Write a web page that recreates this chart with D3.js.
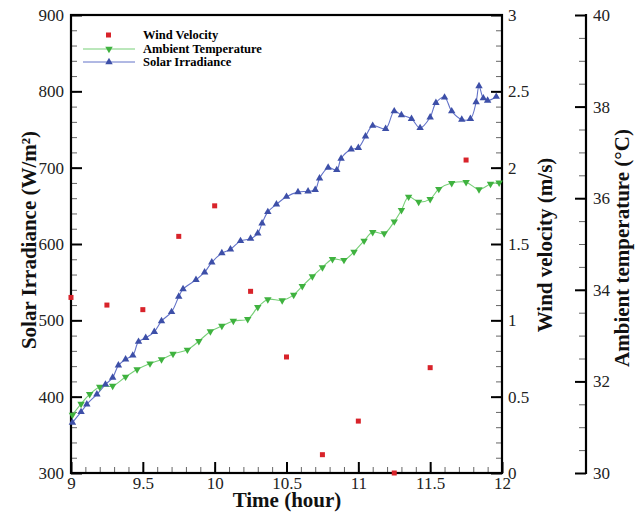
<!DOCTYPE html>
<html>
<head>
<meta charset="utf-8">
<script src="https://cdn.jsdelivr.net/npm/d3@7"></script>
<style>
  body { margin: 0; background: #fff; }
  svg { display: block; font-family: "Liberation Serif", "DejaVu Serif", serif; }
  .tick text { font-family: "Liberation Serif", "DejaVu Serif", serif; font-size: 17px; fill: #222; }
</style>
</head>
<body>
<svg width="640" height="517"></svg>
<script>
// wind velocity, sampled every quarter hour
var windTime = [9, 9.25, 9.5, 9.75, 10, 10.25, 10.5, 10.75, 11, 11.25, 11.5, 11.75];
var windSpeed = [1.15, 1.10, 1.07, 1.55, 1.75, 1.19, 0.76, 0.12, 0.34, 0.0, 0.69, 2.05];

// ambient temperature
var tempTime = [9.01, 9.07, 9.13, 9.2, 9.29, 9.38, 9.46, 9.55, 9.63, 9.71, 9.81, 9.89, 9.97,
  10.05, 10.13, 10.23, 10.3, 10.37, 10.47, 10.55, 10.61, 10.68, 10.75, 10.82, 10.9, 10.97,
  11.04, 11.1, 11.18, 11.25, 11.3, 11.35, 11.42, 11.5, 11.56, 11.65, 11.75, 11.84, 11.92, 11.98];
var tempValue = [31.27, 31.51, 31.72, 31.88, 31.9, 32.1, 32.26, 32.39, 32.48, 32.6, 32.69, 32.88, 33.09,
  33.21, 33.32, 33.36, 33.62, 33.79, 33.77, 33.89, 34.08, 34.29, 34.49, 34.67, 34.65, 34.83,
  35.07, 35.26, 35.23, 35.49, 35.74, 36.03, 35.92, 35.98, 36.2, 36.33, 36.35, 36.19, 36.31, 36.34];

// solar irradiance
var solarTime = [9.01, 9.07, 9.11, 9.18, 9.24, 9.29, 9.33, 9.38, 9.43, 9.47, 9.52, 9.58, 9.63, 9.7,
  9.75, 9.78, 9.87, 9.93, 9.98, 10.05, 10.11, 10.18, 10.25, 10.3, 10.33, 10.37, 10.43, 10.5,
  10.58, 10.65, 10.7, 10.73, 10.79, 10.85, 10.88, 10.95, 11.0, 11.05, 11.1, 11.19, 11.25, 11.3,
  11.37, 11.43, 11.5, 11.54, 11.6, 11.65, 11.72, 11.78, 11.82, 11.84, 11.87, 11.9, 11.96];
var solarValue = [366, 380, 390, 403, 416, 425, 441, 449, 454, 472, 477, 485, 499, 511,
  531, 541, 553, 563, 576, 588, 593, 604, 607, 614, 627, 642, 652, 662,
  668, 669, 671, 686, 700, 697, 712, 724, 726, 741, 755, 751, 774, 769,
  764, 752, 766, 785, 792, 774, 763, 764, 786, 807, 791, 788, 793];

var svg = d3.select("svg");
var plotL = 71, plotR = 502, plotT = 15, plotB = 473;

var x = d3.scaleLinear().domain([9, 12]).range([plotL, plotR]);
var ySolar = d3.scaleLinear().domain([300, 900]).range([plotB, plotT]);
var yWind = d3.scaleLinear().domain([0, 3]).range([plotB, plotT]);
var yTemp = d3.scaleLinear().domain([30, 40]).range([plotB, plotT]);

function styleAxis(g, w) {
  g.select(".domain").remove();
  g.selectAll(".tick line").attr("stroke", "#000").attr("stroke-width", w);
}

// minor ticks first, majors over them
svg.append("g").attr("transform", "translate(" + plotL + ",0)")
    .call(d3.axisLeft(ySolar).tickValues(d3.range(300, 901, 20)).tickSize(-6).tickFormat(""))
    .call(styleAxis, 1).selectAll(".tick line").attr("stroke", "#666");
svg.append("g").attr("transform", "translate(" + plotL + ",0)")
    .call(d3.axisLeft(ySolar).tickValues(d3.range(300, 901, 100)).tickSize(-11).tickPadding(7).tickFormat(d3.format("d")))
    .call(styleAxis, 2);

svg.append("g").attr("transform", "translate(0," + plotB + ")")
    .call(d3.axisBottom(x).tickValues(d3.range(90, 121, 1).map(function(d) { return d / 10; })).tickSize(-6).tickFormat(""))
    .call(styleAxis, 1).selectAll(".tick line").attr("stroke", "#666");
svg.append("g").attr("transform", "translate(0," + plotB + ")")
    .call(d3.axisBottom(x).tickValues([9, 9.5, 10, 10.5, 11, 11.5, 12]).tickSize(-11).tickPadding(4).tickFormat(d3.format("")))
    .call(styleAxis, 2);

svg.append("g").attr("transform", "translate(" + plotR + ",0)")
    .call(d3.axisRight(yWind).tickValues(d3.range(0, 31, 1).map(function(d) { return d / 10; })).tickSize(-6).tickFormat(""))
    .call(styleAxis, 1).selectAll(".tick line").attr("stroke", "#666");
svg.append("g").attr("transform", "translate(" + plotR + ",0)")
    .call(d3.axisRight(yWind).tickValues([0, 0.5, 1, 1.5, 2, 2.5, 3]).tickSize(-11).tickPadding(6).tickFormat(d3.format("")))
    .call(styleAxis, 2);

var tempX = 586;
svg.append("g").attr("transform", "translate(" + tempX + ",0)")
    .call(d3.axisRight(yTemp).tickValues(d3.range(30, 40.1, 0.5)).tickSize(-7).tickFormat(""))
    .call(styleAxis, 1).selectAll(".tick line").attr("stroke", "#666");
svg.append("g").attr("transform", "translate(" + tempX + ",0)")
    .call(d3.axisRight(yTemp).tickValues(d3.range(30, 41, 2)).tickSize(-11).tickPadding(7).tickFormat(d3.format("d")))
    .call(styleAxis, 2);
svg.append("line").attr("x1", tempX).attr("x2", tempX).attr("y1", plotT - 1).attr("y2", plotB + 1)
    .attr("stroke", "#000").attr("stroke-width", 2.2);

// plot frame
svg.append("rect").attr("x", plotL).attr("y", plotT).attr("width", plotR - plotL).attr("height", plotB - plotT)
    .attr("fill", "none").attr("stroke", "#000").attr("stroke-width", 2.2);

// series
var blueLine = "#6272c8", blueMark = "#3d4fa8";
var greenLine = "#77cf77", greenMark = "#3fb23f";
var red = "#d8232a";

var tempData = tempTime.map(function(t, i) { return [t, tempValue[i]]; });
var solarData = solarTime.map(function(t, i) { return [t, solarValue[i]]; });

svg.append("path").datum(tempData)
    .attr("fill", "none").attr("stroke", greenLine).attr("stroke-width", 1.1)
    .attr("d", d3.line().curve(d3.curveCatmullRom).x(function(d) { return x(d[0]); }).y(function(d) { return yTemp(d[1]); }));
svg.append("path").datum(solarData)
    .attr("fill", "none").attr("stroke", blueLine).attr("stroke-width", 1.1)
    .attr("d", d3.line().curve(d3.curveCatmullRom).x(function(d) { return x(d[0]); }).y(function(d) { return ySolar(d[1]); }));

var tri = d3.symbol().type(d3.symbolTriangle).size(24);
svg.append("g").selectAll("path").data(tempData).enter().append("path")
    .attr("d", tri).attr("fill", greenMark)
    .attr("transform", function(d) { return "translate(" + x(d[0]) + "," + yTemp(d[1]) + ") rotate(180)"; });
svg.append("g").selectAll("path").data(solarData).enter().append("path")
    .attr("d", tri).attr("fill", blueMark)
    .attr("transform", function(d) { return "translate(" + x(d[0]) + "," + ySolar(d[1]) + ")"; });

svg.append("g").selectAll("rect").data(windTime).enter().append("rect")
    .attr("x", function(d) { return x(d) - 2.5; })
    .attr("y", function(d, i) { return yWind(windSpeed[i]) - 2.5; })
    .attr("width", 5).attr("height", 5).attr("fill", red);

// legend
var legend = svg.append("g").attr("font-size", "12.5px").attr("font-weight", "bold");
legend.append("rect").attr("x", 106).attr("y", 32.5).attr("width", 5).attr("height", 5).attr("fill", red);
legend.append("text").attr("x", 143).attr("y", 39).text("Wind Velocity");
legend.append("line").attr("x1", 83).attr("x2", 135).attr("y1", 49).attr("y2", 49).attr("stroke", greenLine);
legend.append("path").attr("d", tri).attr("fill", greenMark).attr("transform", "translate(109,49) rotate(180)");
legend.append("text").attr("x", 143).attr("y", 53).text("Ambient Temperature");
legend.append("line").attr("x1", 83).attr("x2", 135).attr("y1", 62).attr("y2", 62).attr("stroke", blueLine);
legend.append("path").attr("d", tri).attr("fill", blueMark).attr("transform", "translate(109,62)");
legend.append("text").attr("x", 143).attr("y", 66).text("Solar Irradiance");

// axis titles
function title(tx, ty, rot, txt) {
  svg.append("text")
      .attr("transform", "translate(" + tx + "," + ty + ") rotate(" + rot + ")")
      .attr("text-anchor", "middle").attr("dy", "0.35em")
      .attr("font-size", "21px").attr("font-weight", "bold").attr("fill", "#111")
      .text(txt);
}
title(29, 240, -90, "Solar Irradiance (W/m²)");
title(287, 500, 0, "Time (hour)");
title(545, 245, -90, "Wind velocity (m/s)");
title(622, 248, -90, "Ambient  temperature (°C)");
</script>
</body>
</html>
